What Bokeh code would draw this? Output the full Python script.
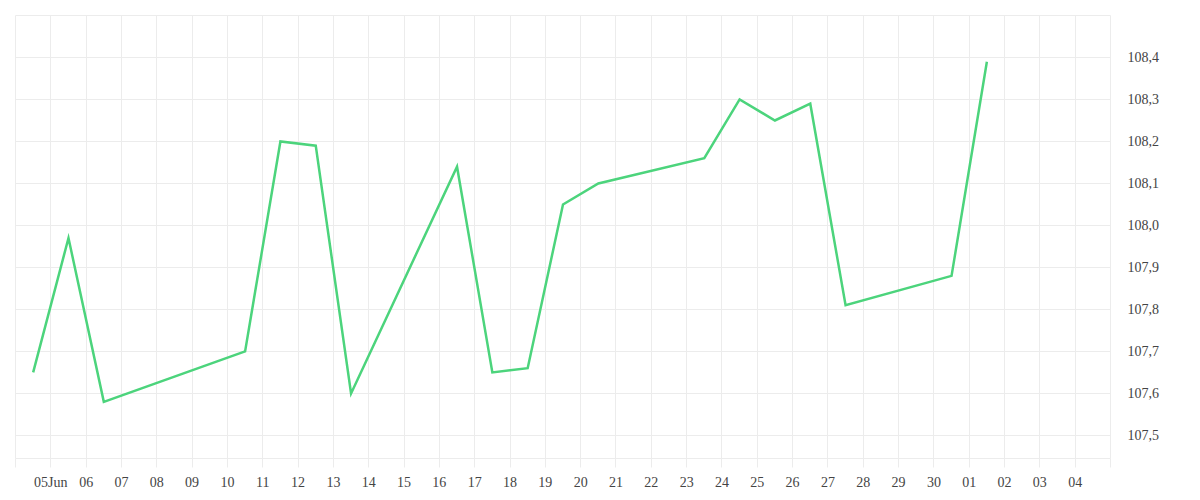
import numpy as np
import pandas as pd
from bokeh.plotting import figure
from bokeh.models import Range1d, FixedTicker, CustomJSTickFormatter
from bokeh.embed import file_html
from bokeh.resources import INLINE

# ---- data ----
dates = ["2025-06-04", "2025-06-05", "2025-06-06", "2025-06-10", "2025-06-11",
         "2025-06-12", "2025-06-13", "2025-06-16", "2025-06-17", "2025-06-18",
         "2025-06-19", "2025-06-20", "2025-06-23", "2025-06-24", "2025-06-25",
         "2025-06-26", "2025-06-27", "2025-06-30", "2025-07-01"]
values = [107.65, 107.97, 107.58, 107.70, 108.20,
          108.19, 107.60, 108.14, 107.65, 107.66,
          108.05, 108.10, 108.16, 108.30, 108.25,
          108.29, 107.81, 107.88, 108.39]
y_ticks = [107.5, 107.6, 107.7, 107.8, 107.9, 108.0, 108.1, 108.2, 108.3, 108.4]
x_start = "2025-06-04"
x_end = "2025-07-05"

FONT = "Liberation Serif"
GRID = "#ececec"

xs = pd.to_datetime(dates) + pd.Timedelta(hours=12)
day_ticks = pd.date_range(x_start, x_end, freq="D")
tick_ms = [float(t.value // 10**6) for t in day_ticks]

p = figure(frame_width=1095, frame_height=443,
           x_axis_type="datetime", y_axis_location="right",
           x_range=Range1d(pd.Timestamp(x_start), pd.Timestamp(x_end)),
           y_range=Range1d(107.445, 108.5),
           output_backend="svg", toolbar_location=None,
           min_border_left=15, min_border_top=15, min_border_right=5, min_border_bottom=5)

p.line(xs, values, line_color="#4cd47c", line_width=2.5, line_join="miter")

p.outline_line_color = GRID
p.background_fill_color = "white"
p.border_fill_color = "white"

# x axis
xa = p.xaxis[0]
xa.ticker = FixedTicker(ticks=tick_ms)
xa.formatter = CustomJSTickFormatter(code="""
    const months = ['Jan','Feb','Mar','Apr','May','Jun','Jul','Aug','Sep','Oct','Nov','Dec'];
    const d = new Date(tick);
    const day = d.getUTCDate();
    const dd = (day < 10 ? '0' : '') + day;
    if (index == 0 || index == ticks.length - 1) return '';
    if (index == 1) return dd + months[d.getUTCMonth()];
    return dd;
""")
xa.axis_line_color = GRID
xa.major_tick_line_color = GRID
xa.major_tick_out = 9
xa.major_tick_in = 0
xa.minor_tick_line_color = None
xa.major_label_standoff = 7
xa.major_label_text_font = FONT
xa.major_label_text_font_size = "14px"
xa.major_label_text_color = "#444444"

# y axis
ya = p.yaxis[0]
ya.ticker = FixedTicker(ticks=y_ticks)
ya.formatter = CustomJSTickFormatter(code="return tick.toFixed(1).replace('.', ',');")
ya.axis_line_color = None
ya.major_tick_line_color = None
ya.minor_tick_line_color = None
ya.major_tick_out = 0
ya.major_tick_in = 0
ya.major_label_standoff = 17
ya.major_label_text_font = FONT
ya.major_label_text_font_size = "14px"
ya.major_label_text_color = "#444444"

p.xgrid.ticker = FixedTicker(ticks=tick_ms)
p.ygrid.ticker = FixedTicker(ticks=y_ticks)
p.xgrid.grid_line_color = GRID
p.ygrid.grid_line_color = GRID

open("out.html", "w").write(file_html(p, INLINE))
